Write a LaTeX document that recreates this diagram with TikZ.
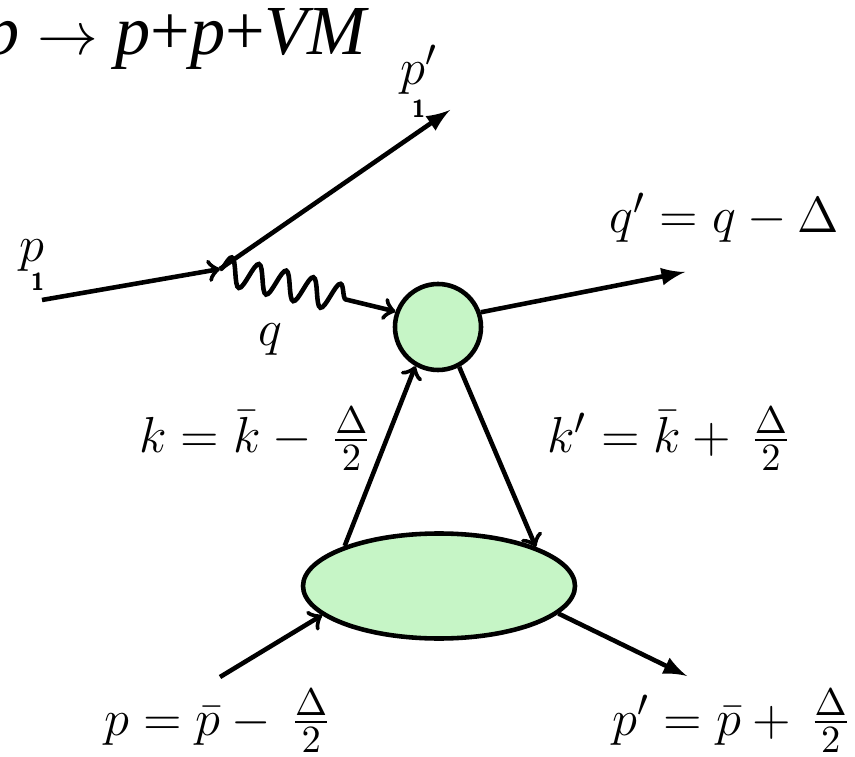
\documentclass[tikz,border=0pt]{standalone}
\usepackage{amsmath, amssymb}
\usepackage{fontspec}
\usepackage{xcolor}
\usepackage{tikz}
\usetikzlibrary{calc, shapes.geometric, positioning, decorations.pathmorphing}
\newfontfamily\titlefont{Liberation Serif}
\definecolor{blobgreen}{RGB}{198,245,198}
\newcommand{\one}{\hspace*{-0.25em}\raisebox{-0.9ex}{\scriptsize\sffamily\bfseries 1}}

\begin{document}
\begin{tikzpicture}[>=latex, line width=1.3pt,
    lbl/.style={anchor=base west, inner sep=0pt, font=\fontsize{15}{18}\selectfont},
    blob/.style={draw, fill=blobgreen, line width=1.3pt},
    photon/.style={decorate, decoration={snake, amplitude=1.4mm, segment length=2.8mm, post length=4.2mm}}]
    \useasboundingbox (0,0) rectangle (8.55,-7.57);
    % Titel
    \node[anchor=base west, inner sep=0pt, font=\titlefont\fontsize{20}{24}\selectfont]
        (title) at (-0.18,-0.55) {\textit{p} {\fontsize{17}{20}\selectfont$\rightarrow$} \textit{p}+\textit{p}+\textit{VM}};

    % Blasen
    \node[blob, circle, minimum size=0.86cm, inner sep=0pt] (vm) at (4.38,-3.27) {};
    \node[blob, ellipse, minimum width=2.72cm, minimum height=1.05cm, inner sep=0pt] (gpd) at (4.39,-5.86) {};

    % Elektron und Photon
    \coordinate (vtx) at (2.20,-2.69);
    \coordinate (pin) at (0.42,-3.00);
    \coordinate (pout) at (4.50,-1.10);
    \draw[-to] (pin) -- (vtx);
    \draw[->] (vtx) -- (pout);
    \draw[photon, -to] (vtx) -- (vm.160);

    % Meson und Gluonen
    \coordinate (qout) at (6.85,-2.72);
    \draw[->] (vm.19) -- (qout);
    \draw[-to] (gpd.157) -- (vm.240);
    \draw[-to] (vm.298) -- (gpd.22);

    % Proton
    \coordinate (prin) at (2.20,-6.77);
    \coordinate (prout) at (6.87,-6.76);
    \draw[-to] (prin) -- (gpd.194);
    \draw[->] (gpd.347) -- (prout);

    % Beschriftung
    \node[lbl] (lp1) at (0.17,-2.62) {$p_{\one}$};
    \node[lbl] (lp1p) at (3.98,-0.85) {$p'_{\one}$};
    \node[lbl, anchor=center] (lq) at (2.70,-3.40) {$q$};
    \node[lbl] (lqp) at (6.07,-2.33) {$q' = q - \Delta$};
    \node[lbl] (lk) at (1.37,-4.53) {$k = \bar{k} - \,\frac{\Delta}{2}$};
    \node[lbl] (lkp) at (5.45,-4.53) {$k' = \bar{k} + \,\frac{\Delta}{2}$};
    \node[lbl] (lp) at (1.02,-7.35) {$p = \bar{p} - \,\frac{\Delta}{2}$};
    \node[lbl] (lpp) at (6.10,-7.35) {$p' = \bar{p} + \,\frac{\Delta}{2}$};
\end{tikzpicture}
\end{document}
